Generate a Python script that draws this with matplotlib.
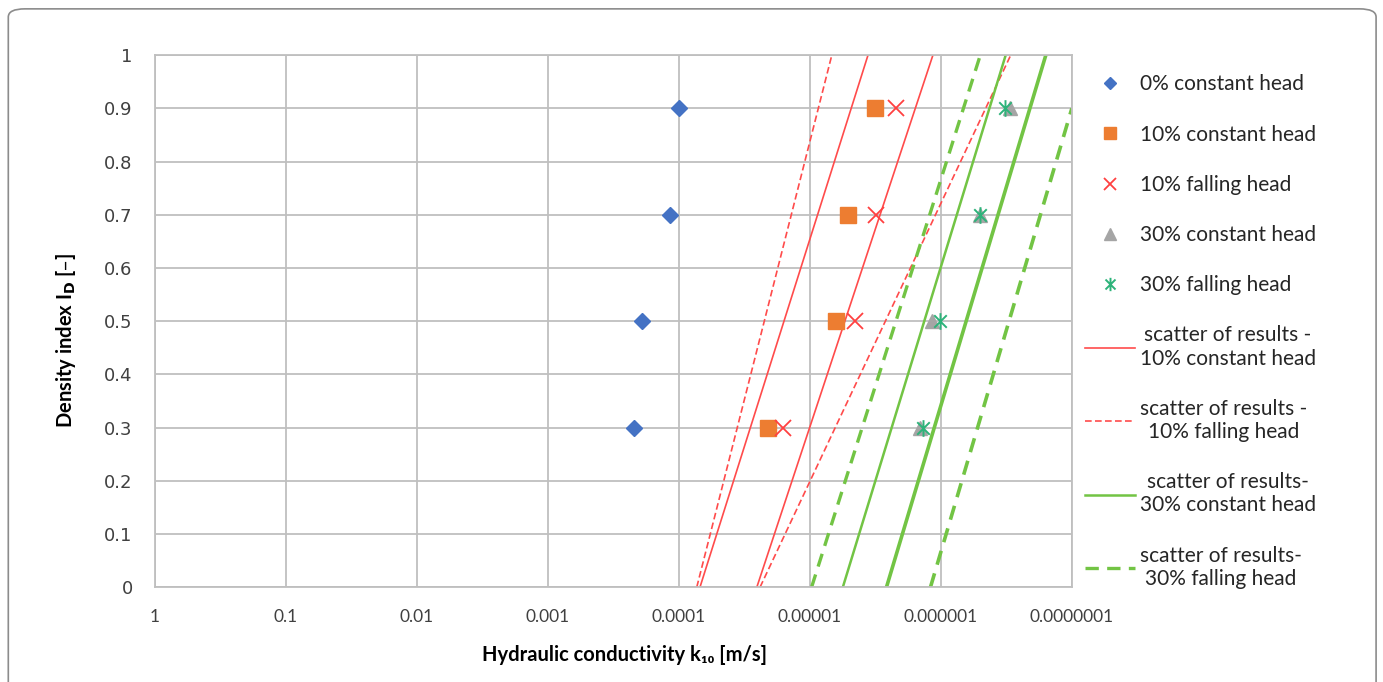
import matplotlib
matplotlib.use("Agg")
import matplotlib.pyplot as plt
from matplotlib.patches import FancyBboxPatch
from matplotlib.path import Path

# density index levels
density = [0.9, 0.7, 0.5, 0.3]

# hydraulic conductivity k10 [m/s] for each series
k_0_const = [1.0e-4, 1.17e-4, 1.9e-4, 2.2e-4]
k_10_const = [3.2e-6, 5.1e-6, 6.3e-6, 2.1e-5]
k_10_fall = [2.2e-6, 3.1e-6, 4.5e-6, 1.6e-5]
k_30_const = [2.95e-7, 5.0e-7, 1.17e-6, 1.45e-6]
k_30_fall = [3.25e-7, 5.0e-7, 1.02e-6, 1.38e-6]

# scatter envelope lines: k at bottom / k at top
env_10_const = [[6.9e-5, 3.6e-6], [2.54e-5, 1.15e-6]]
env_10_fall = [[7.3e-5, 6.8e-6], [2.4e-5, 2.93e-7]]
env_30_const = [[5.6e-6, 3.2e-7], [2.6e-6, 1.58e-7]]
env_30_fall = [[9.7e-6, 5.0e-7], [1.2e-6, 1.0e-7]]
env_y = [0, 1]
env_y_last = [0, 0.9]

xticks = [1, 0.1, 0.01, 0.001, 0.0001, 0.00001, 0.000001, 0.0000001]
xtick_labels = ['1', '0.1', '0.01', '0.001', '0.0001', '0.00001', '0.000001', '0.0000001']
yticks = [0, 0.1, 0.2, 0.3, 0.4, 0.5, 0.6, 0.7, 0.8, 0.9, 1]
ytick_labels = ['0', '0.1', '0.2', '0.3', '0.4', '0.5', '0.6', '0.7', '0.8', '0.9', '1']

plt.rcParams['font.family'] = ['Lato', 'DejaVu Sans']

# excel style asterisk: x with a vertical bar
star = Path([(0, -1), (0, 1), (-0.75, -0.75), (0.75, 0.75), (-0.75, 0.75), (0.75, -0.75)],
            [Path.MOVETO, Path.LINETO] * 3)

fig = plt.figure(figsize=(13.83, 6.82), dpi=100)
ax = fig.add_axes([0.112, 0.139, 0.663, 0.780])

red = '#FF4B4B'
green = '#72C444'

# envelope lines
ax.plot(env_10_const[0], env_y, color=red, lw=1.2, label='scatter of results -\n10% constant head')
ax.plot(env_10_const[1], env_y, color=red, lw=1.2)
ax.plot(env_10_fall[0], env_y, color=red, lw=1.2, ls=(0, (4, 2)), label='scatter of results -\n10% falling head')
ax.plot(env_10_fall[1], env_y, color=red, lw=1.2, ls=(0, (4, 2)))
ax.plot(env_30_const[0], env_y, color=green, lw=1.8, label='scatter of results-\n30% constant head')
ax.plot(env_30_const[1], env_y, color=green, lw=2.6)
ax.plot(env_30_fall[0], env_y, color=green, lw=2.4, ls=(0, (4, 2.5)), label='scatter of results-\n30% falling head')
ax.plot(env_30_fall[1], env_y_last, color=green, lw=2.6, ls=(0, (4, 2.5)))

# measured points
ax.plot(k_0_const, density, ls='none', marker='D', ms=8, color='#4472C4', label='0% constant head')
ax.plot(k_10_const, density, ls='none', marker='s', ms=11, color='#ED7D31', label='10% constant head')
ax.plot(k_10_fall, density, ls='none', marker='x', ms=11, mew=1.3, color='#FF4040', label='10% falling head')
ax.plot(k_30_const, density, ls='none', marker='^', ms=10, color='#A5A5A5', label='30% constant head')
ax.plot(k_30_fall, density, ls='none', marker=star, ms=12, mew=1.4, color='#2DB37A', label='30% falling head')

ax.set_xscale('log')
ax.set_xlim(1, 1e-7)
ax.set_ylim(0, 1)
ax.set_xticks(xticks)
ax.set_xticklabels(xtick_labels, fontsize=12.5, color='#404040')
ax.minorticks_off()
ax.set_yticks(yticks)
ax.set_yticklabels(ytick_labels, fontsize=13, color='#404040', family='DejaVu Sans')
ax.tick_params(length=0, pad=16)
ax.grid(True, color='#BFBFBF', lw=1.3)
ax.set_axisbelow(True)
for s in ax.spines.values():
    s.set_color('#BFBFBF')
    s.set_linewidth(1.3)

ax.set_xlabel('Hydraulic conductivity k\u2081\u2080 [m/s]', fontsize=14.5, fontweight='bold')
ax.set_ylabel('Density index I$_{\\mathbf{D}}$ [\u2013]', fontsize=14.5, fontweight='bold')
ax.xaxis.set_label_coords(0.5125, -0.109)
ax.yaxis.set_label_coords(-0.084, 0.464)

handles, labels = ax.get_legend_handles_labels()
order = [4, 5, 6, 7, 8, 0, 1, 2, 3]
leg = ax.legend([handles[i] for i in order], [labels[i] for i in order],
                loc='upper left', bbox_to_anchor=(1.014, 0.964), frameon=False,
                fontsize=15, labelspacing=1.45, handlelength=2.4, handletextpad=0.25,
                markerscale=0.8, borderaxespad=0, borderpad=0)
for t in leg.get_texts():
    t.set_multialignment('center')
    t.set_color('#262626')

fig.add_artist(FancyBboxPatch((0.006, -0.05), 0.989, 1.037, transform=fig.transFigure,
                              boxstyle='round,pad=0,rounding_size=0.012', fill=False,
                              edgecolor='#8C8C8C', lw=1.2))

plt.savefig('out.png', dpi=100)
plt.close()
